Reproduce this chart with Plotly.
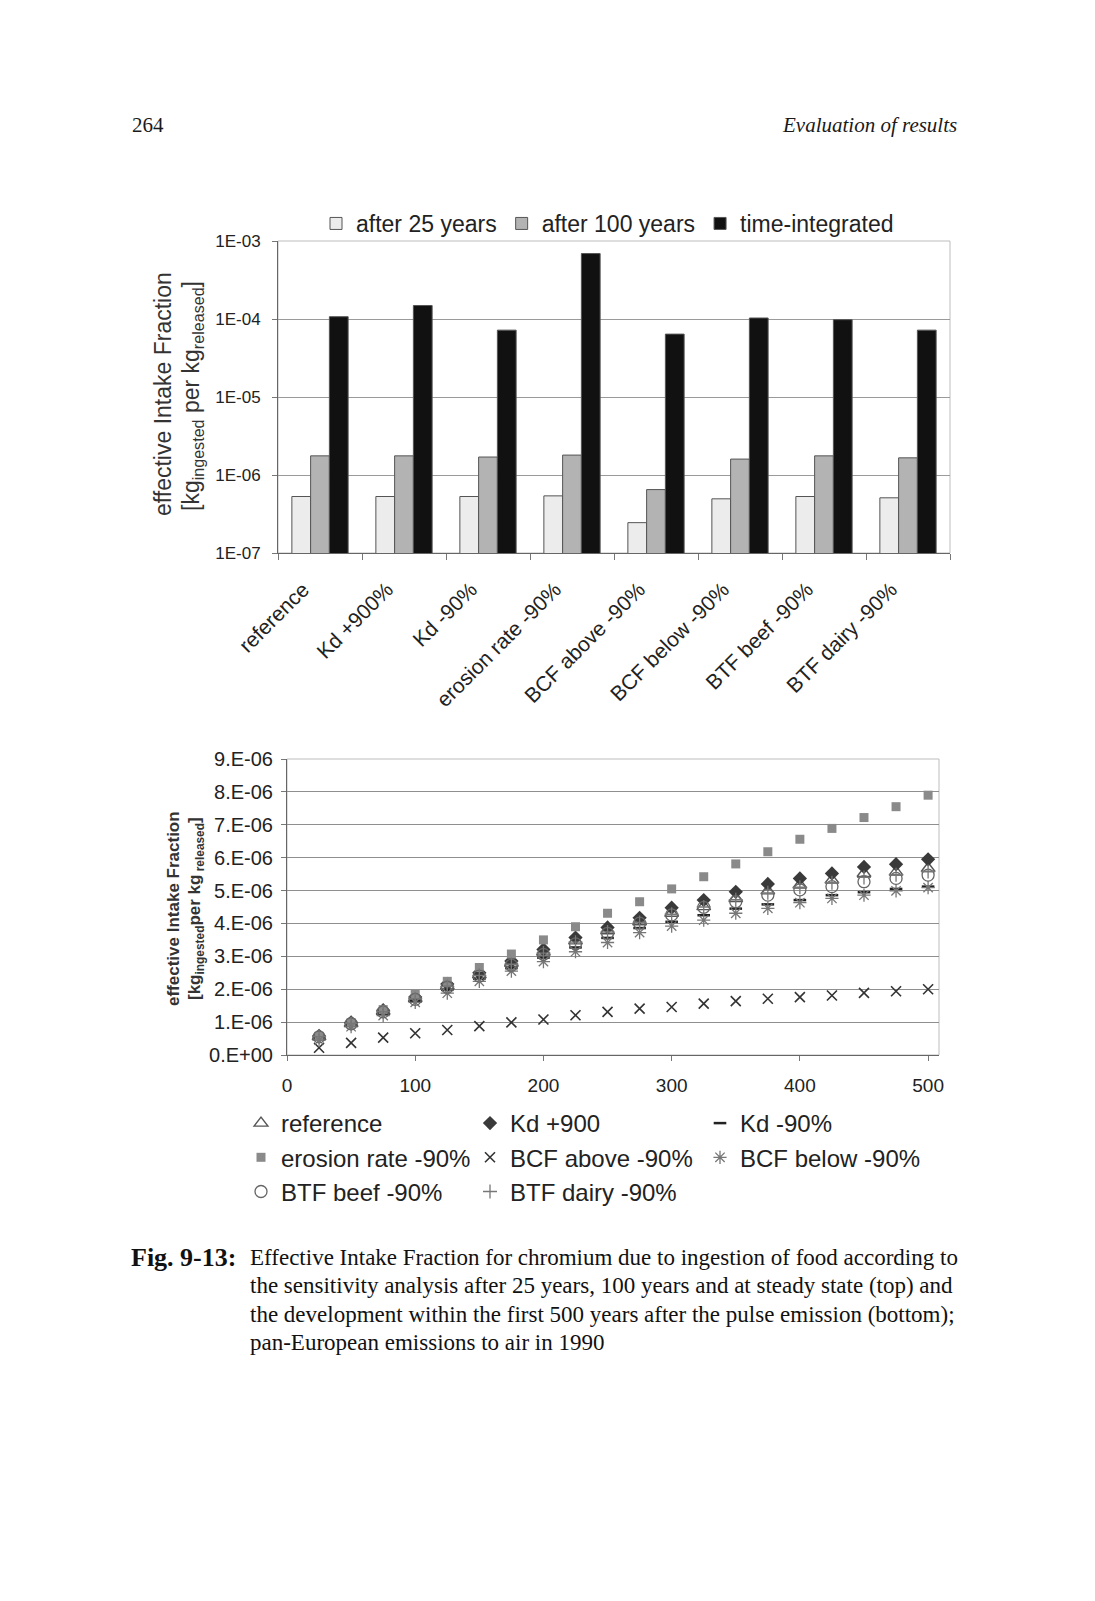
import plotly.graph_objects as go

# page size and default <body> margin of the html page
W, H = 1095, 1601
BODY = 8
FW, FH = W - 2 * BODY, H - 2 * BODY


def fx(px):
    return (px - BODY) / FW


def fy(py):
    return 1 - (py - BODY) / FH


# ---------------- top chart data ----------------
categories = ["reference", "Kd +900%", "Kd -90%", "erosion rate -90%",
              "BCF above -90%", "BCF below -90%", "BTF beef -90%", "BTF dairy -90%"]
after_25_years = [5.3e-7, 5.3e-7, 5.3e-7, 5.4e-7, 2.45e-7, 4.95e-7, 5.3e-7, 5.1e-7]
after_100_years = [1.76e-6, 1.76e-6, 1.70e-6, 1.80e-6, 6.5e-7, 1.60e-6, 1.76e-6, 1.66e-6]
time_integrated = [1.07e-4, 1.49e-4, 7.2e-5, 6.9e-4, 6.4e-5, 1.03e-4, 9.8e-5, 7.2e-5]
top_tickvals = [1e-7, 1e-6, 1e-5, 1e-4, 1e-3]
top_ticktext = ["1E-07", "1E-06", "1E-05", "1E-04", "1E-03"]

# ---------------- bottom chart data (values in 1E-06) ----------------
years = [25, 50, 75, 100, 125, 150, 175, 200, 225, 250,
         275, 300, 325, 350, 375, 400, 425, 450, 475, 500]
reference_e6 = [0.56, 0.96, 1.33, 1.72, 2.10, 2.44, 2.79, 3.13, 3.47, 3.78,
                4.05, 4.31, 4.51, 4.76, 4.99, 5.17, 5.32, 5.52, 5.56, 5.67]
kd_plus900_e6 = [0.58, 0.99, 1.36, 1.76, 2.16, 2.50, 2.86, 3.21, 3.57, 3.88,
                 4.17, 4.48, 4.71, 4.96, 5.20, 5.37, 5.52, 5.72, 5.80, 5.95]
kd_minus90_e6 = [0.52, 0.90, 1.26, 1.64, 1.98, 2.32, 2.64, 2.96, 3.27, 3.56,
                 3.86, 4.05, 4.25, 4.45, 4.58, 4.71, 4.86, 4.95, 5.05, 5.12]
erosion_e6 = [0.57, 0.98, 1.38, 1.84, 2.24, 2.66, 3.07, 3.50, 3.90, 4.31,
              4.66, 5.05, 5.42, 5.81, 6.18, 6.56, 6.89, 7.22, 7.55, 7.90]
bcf_above_e6 = [0.22, 0.37, 0.53, 0.66, 0.76, 0.88, 0.99, 1.08, 1.21, 1.31,
                1.41, 1.46, 1.56, 1.64, 1.71, 1.76, 1.81, 1.89, 1.94, 2.00]
bcf_below_e6 = [0.45, 0.86, 1.20, 1.60, 1.88, 2.24, 2.55, 2.84, 3.14, 3.42,
                3.72, 3.92, 4.10, 4.31, 4.46, 4.63, 4.76, 4.86, 4.99, 5.09]
btf_beef_e6 = [0.55, 0.95, 1.31, 1.69, 2.06, 2.40, 2.73, 3.06, 3.38, 3.70,
               4.01, 4.26, 4.49, 4.66, 4.86, 5.02, 5.12, 5.27, 5.37, 5.47]
btf_dairy_e6 = [0.56, 0.96, 1.32, 1.71, 2.08, 2.42, 2.76, 3.10, 3.43, 3.74,
                4.03, 4.28, 4.50, 4.72, 4.93, 5.10, 5.24, 5.40, 5.48, 5.58]
bottom_tickvals_e6 = [0, 1, 2, 3, 4, 5, 6, 7, 8, 9]
bottom_ticktext = ["0.E+00", "1.E-06", "2.E-06", "3.E-06", "4.E-06",
                   "5.E-06", "6.E-06", "7.E-06", "8.E-06", "9.E-06"]
x_tickvals = [0, 100, 200, 300, 400, 500]

caption_lines = [
    "Effective Intake Fraction for chromium due to ingestion of food according to",
    "the sensitivity analysis after 25 years, 100 years and at steady state (top) and",
    "the development within the first 500 years after the pulse emission (bottom);",
    "pan-European emissions to air in 1990",
]

E6 = 1e-6
SANS = "Liberation Sans, Arial, sans-serif"
SERIF = "Liberation Serif, Times New Roman, serif"
TXT = "#1a1a1a"

fig = go.Figure()

bar_specs = [
    ("after 25 years", after_25_years, "#ececec"),
    ("after 100 years", after_100_years, "#b3b3b3"),
    ("time-integrated", time_integrated, "#111111"),
]
for name, vals, col in bar_specs:
    fig.add_trace(go.Bar(
        x=categories, y=vals, name=name, xaxis="x", yaxis="y",
        marker=dict(color=col, line=dict(color="#555555", width=1)),
        legend="legend",
    ))

# (name, values, marker, legend column)
scatter_specs = [
    ("reference", reference_e6, dict(symbol="triangle-up-open", color="#555555", size=12,
                                     line=dict(width=1.4, color="#555555")), "legend2"),
    ("Kd +900", kd_plus900_e6, dict(symbol="diamond", color="#3a3a3a", size=11,
                                    line=dict(width=0)), "legend3"),
    ("Kd -90%", kd_minus90_e6, dict(symbol="line-ew", color="#222222", size=9,
                                    line=dict(width=2.5, color="#222222")), "legend4"),
    ("erosion rate -90%", erosion_e6, dict(symbol="square", color="#8a8a8a", size=9,
                                           line=dict(width=0)), "legend2"),
    ("BCF above -90%", bcf_above_e6, dict(symbol="x-thin", color="#333333", size=10,
                                          line=dict(width=1.6, color="#333333")), "legend3"),
    ("BCF below -90%", bcf_below_e6, dict(symbol="asterisk", color="#777777", size=11,
                                          line=dict(width=1.3, color="#777777")), "legend4"),
    ("BTF beef -90%", btf_beef_e6, dict(symbol="circle-open", color="#666666", size=12,
                                        line=dict(width=1.3, color="#666666")), "legend2"),
    ("BTF dairy -90%", btf_dairy_e6, dict(symbol="cross-thin", color="#777777", size=10,
                                          line=dict(width=1.3, color="#777777")), "legend3"),
]
for name, vals, mk, lg in scatter_specs:
    fig.add_trace(go.Scatter(
        x=years, y=[v * E6 for v in vals], name=name, mode="markers",
        xaxis="x2", yaxis="y2", marker=mk, legend=lg,
    ))

annotations = []


def ann(text, x, y, size, family=SANS, xanchor="center", angle=0, color=TXT):
    annotations.append(dict(
        text=text, x=fx(x), y=fy(y), xref="paper", yref="paper",
        xanchor=xanchor, yanchor="middle", showarrow=False, textangle=angle,
        font=dict(size=size, family=family, color=color),
    ))


# page header
ann("264", 130, 125, 21, SERIF, xanchor="left")
ann("<i>Evaluation of results</i>", 959, 125, 21, SERIF, xanchor="right")

# top y title
ann("effective Intake Fraction", 163, 394, 23, angle=-90, color="#333333")
ann("[kg<sub>ingested</sub> per kg<sub>released</sub>]", 193, 396, 23, angle=-90, color="#333333")

# bottom y title
ann("<b>effective Intake Fraction</b>", 174, 909, 17, angle=-90, color="#333333")
ann("<b>[kg<sub>ingested</sub>per kg<sub> released</sub>]</b>", 196, 909, 17, angle=-90, color="#333333")

# caption
ann("<b>Fig. 9-13:</b>", 129, 1257, 26, SERIF, xanchor="left", color="#111111")
for i, line in enumerate(caption_lines):
    ann(line, 248, 1257 + i * 28.5, 23, SERIF, xanchor="left", color="#111111")

frame = dict(type="rect", x0=0, x1=1, y0=0, y1=1, line=dict(color="#bdbdbd", width=1),
             fillcolor="rgba(0,0,0,0)", layer="below")
shapes = [dict(frame, xref="x domain", yref="y domain"),
          dict(frame, xref="x2 domain", yref="y2 domain")]

col_legend = dict(orientation="v", xanchor="left", yanchor="top",
                  font=dict(size=24, color="#222222"), itemwidth=30,
                  bgcolor="rgba(0,0,0,0)", traceorder="normal", tracegroupgap=0)

fig.update_layout(
    width=FW, height=FH,
    margin=dict(l=0, r=0, t=0, b=0, autoexpand=False),
    paper_bgcolor="white", plot_bgcolor="white",
    font=dict(family=SANS, color=TXT),
    barmode="group", bargap=0.33, bargroupgap=0,
    showlegend=True,
    legend=dict(
        orientation="h", x=fx(316), y=fy(202), xanchor="left", yanchor="top",
        font=dict(size=23, color="#222222"), itemwidth=30, bgcolor="rgba(0,0,0,0)",
        traceorder="normal",
    ),
    legend2=dict(col_legend, x=fx(241), y=fy(1101)),
    legend3=dict(col_legend, x=fx(470), y=fy(1101)),
    legend4=dict(col_legend, x=fx(700), y=fy(1101)),
    xaxis=dict(
        domain=[fx(278), fx(950)], anchor="y", type="category", automargin=False,
        tickson="boundaries", ticks="outside", ticklen=6, tickcolor="#777777",
        tickangle=-45, tickfont=dict(size=21, color="#222222"),
        showline=True, linecolor="#666666", linewidth=1, showgrid=False,
        ticklabelstandoff=15, ticklabelshift=-17,
    ),
    yaxis=dict(
        domain=[fy(553), fy(241)], anchor="x", type="log", range=[-7, -3],
        automargin=False,
        tickvals=top_tickvals, ticktext=top_ticktext,
        tickfont=dict(size=17, color="#222222"),
        ticks="outside", ticklen=5, tickcolor="#777777",
        showline=True, linecolor="#666666", linewidth=1,
        showgrid=True, gridcolor="#9a9a9a", gridwidth=1,
        ticklabelstandoff=8,
    ),
    xaxis2=dict(
        domain=[fx(287), fx(939)], anchor="y2", range=[0, 508.5], automargin=False,
        tickvals=x_tickvals, tickfont=dict(size=19, color="#222222"),
        ticks="outside", ticklen=5, tickcolor="#777777",
        showline=True, linecolor="#666666", linewidth=1, showgrid=False,
        zeroline=False, ticklabelstandoff=8,
    ),
    yaxis2=dict(
        domain=[fy(1055), fy(759)], anchor="x2", range=[0, 9 * E6], automargin=False,
        tickvals=[v * E6 for v in bottom_tickvals_e6], ticktext=bottom_ticktext,
        tickfont=dict(size=20, color="#222222"),
        ticks="outside", ticklen=5, tickcolor="#777777",
        showline=True, linecolor="#666666", linewidth=1,
        showgrid=True, gridcolor="#8f8f8f", gridwidth=1, zeroline=False,
        ticklabelstandoff=4,
    ),
    annotations=annotations,
    shapes=shapes,
)

fig.write_html("out.html")
